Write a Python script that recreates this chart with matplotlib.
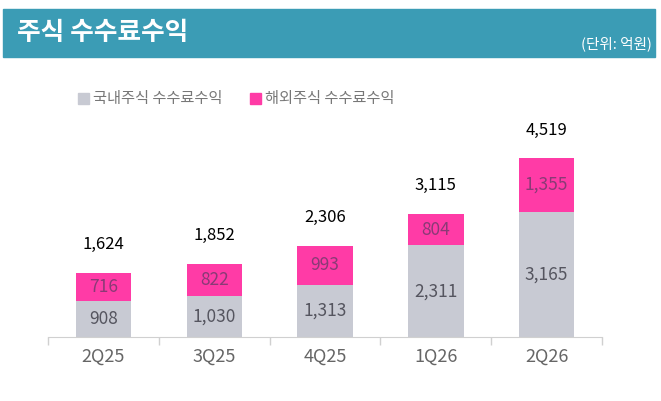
import matplotlib.pyplot as plt
from matplotlib.patches import Rectangle, Patch

plt.rcParams['font.family'] = ['Noto Sans CJK KR', 'DejaVu Sans']

quarters = ["2Q25", "3Q25", "4Q25", "1Q26", "2Q26"]
domestic = [908, 1030, 1313, 2311, 3165]
overseas = [716, 822, 993, 804, 1355]
totals = [1624, 1852, 2306, 3115, 4519]

GRAY = "#c8cad3"
PINK = "#ff3ba6"
W, H = 661, 401

fig = plt.figure(figsize=(W / 100, H / 100), dpi=100)

# header band
fig.patches.append(Rectangle((3 / W, 1 - 57 / H), 652 / W, 48 / H,
                             transform=fig.transFigure, color="#3b9cb5", zorder=0))
fig.text(17 / W, 1 - 33 / H, "주식 수수료수익", color="white", fontsize=18.5,
         fontweight="bold", va="center", ha="left")
fig.text(652 / W, 1 - 44 / H, "(단위: 억원)", color="white", fontsize=10.5,
         va="center", ha="right")

ax = fig.add_axes([48 / W, 64 / H, 554 / W, 217 / H])
x = range(len(quarters))
bw = 0.5
ax.bar(x, domestic, width=bw, color=GRAY, label="국내주식 수수료수익", zorder=2)
ax.bar(x, overseas, width=bw, bottom=domestic, color=PINK, label="해외주식 수수료수익", zorder=2)

for i in x:
    ax.text(i, domestic[i] / 2, f"{domestic[i]:,}", ha="center", va="center",
            fontsize=12.5, color="#55555f", fontweight="light")
    ax.text(i, domestic[i] + overseas[i] / 2, f"{overseas[i]:,}", ha="center", va="center",
            fontsize=12.5, color="#8a3a76", fontweight="light")
    ax.annotate(f"{totals[i]:,}", (i, totals[i]), xytext=(0, 14), textcoords="offset points",
                ha="center", va="bottom", fontsize=12, color="black")

ax.set_xlim(-0.5, len(quarters) - 0.5)
ax.set_ylim(0, 5480)
ax.set_xticks(list(x))
ax.set_xticklabels(quarters, fontsize=13, color="#666666")
ax.set_xticks([i - 0.5 for i in range(len(quarters) + 1)], minor=True)
ax.tick_params(axis="x", which="major", length=0, pad=8)
ax.tick_params(axis="x", which="minor", length=6, color="#d0d0d0", width=1)
ax.set_yticks([])
for s in ["top", "right", "left"]:
    ax.spines[s].set_visible(False)
ax.spines["bottom"].set_color("#d0d0d0")

handles = [Patch(color=GRAY, label="국내주식 수수료수익"),
           Patch(color=PINK, label="해외주식 수수료수익")]
fig.legend(handles=handles, loc="center left", bbox_to_anchor=(78 / W, 1 - 99 / H),
           ncol=2, frameon=False, fontsize=11, labelcolor="#777777",
           handlelength=0.7, handleheight=0.7, handletextpad=0.3, columnspacing=1.8,
           borderpad=0, borderaxespad=0)

fig.savefig("out.png", dpi=100)
